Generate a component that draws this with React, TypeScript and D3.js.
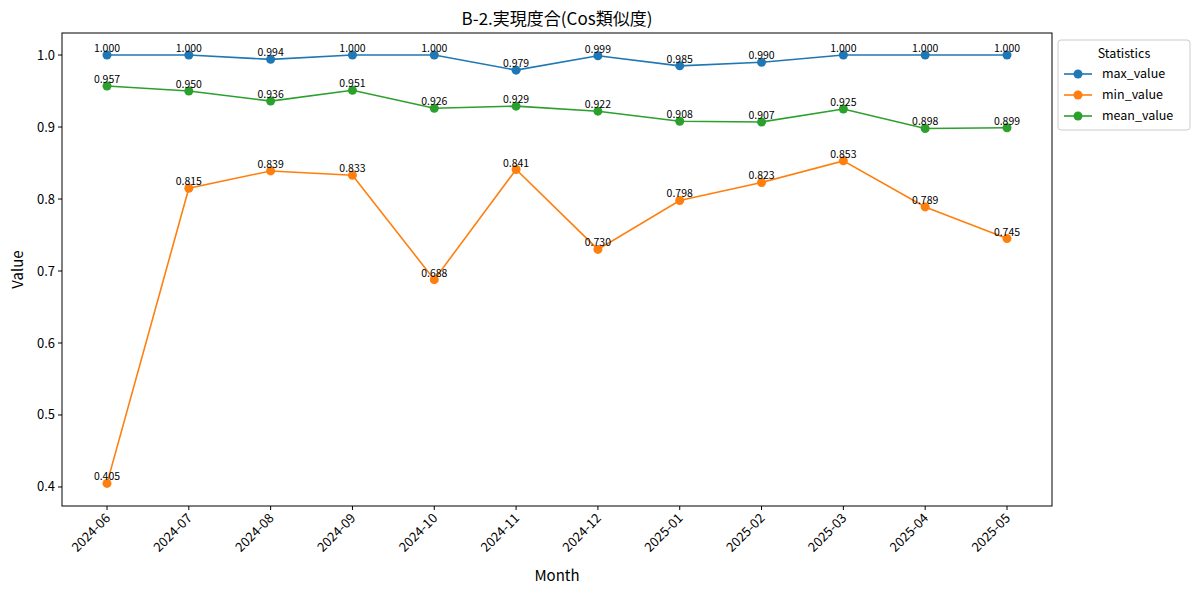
import React from "react";
import * as d3 from "d3";

const months = ["2024-06","2024-07","2024-08","2024-09","2024-10","2024-11","2024-12","2025-01","2025-02","2025-03","2025-04","2025-05"];
const maxValue = [1.0,1.0,0.994,1.0,1.0,0.979,0.999,0.985,0.99,1.0,1.0,1.0];
const minValue = [0.405,0.815,0.839,0.833,0.688,0.841,0.73,0.798,0.823,0.853,0.789,0.745];
const meanValue = [0.957,0.95,0.936,0.951,0.926,0.929,0.922,0.908,0.907,0.925,0.898,0.899];
const yTicks = [0.4,0.5,0.6,0.7,0.8,0.9,1.0];

const series = [
  { name: "max_value", values: maxValue, color: "#1f77b4" },
  { name: "min_value", values: minValue, color: "#ff7f0e" },
  { name: "mean_value", values: meanValue, color: "#2ca02c" },
];

const font = "'Noto Sans CJK JP', 'Noto Sans', sans-serif";
const L = 62, R = 1052, T = 33, B = 506;

export default function App() {
  const x = d3.scalePoint().domain(months).range([107, 1007]);
  const y = d3.scaleLinear().domain([0.3736, 1.0306]).range([B, T]);
  const line = d3.line<number>().x((_, i) => x(months[i])!).y((v) => y(v));
  return (
    <svg width={1200} height={595} style={{ position: "absolute", left: 0, top: 0, fontFamily: font }}>
      <rect width={1200} height={595} fill="#fff" />
      <text x={557} y={25} textAnchor="middle" fontSize={17}>B-2.実現度合(Cos類似度)</text>
      {series.map((s) => (
        <g key={s.name}>
          <path d={line(s.values)!} fill="none" stroke={s.color} strokeWidth={1.6} />
          {s.values.map((v, i) => (
            <g key={i}>
              <circle cx={x(months[i])} cy={y(v)} r={4.5} fill={s.color} />
              <text x={x(months[i])} y={y(v) - 3} textAnchor="middle" fontSize={10.5}>{v.toFixed(3)}</text>
            </g>
          ))}
        </g>
      ))}
      <rect x={L} y={T} width={R - L} height={B - T} fill="none" stroke="#000" strokeWidth={1} />
      {yTicks.map((t) => (
        <g key={t}>
          <line x1={L - 4} x2={L} y1={y(t)} y2={y(t)} stroke="#000" />
          <text x={L - 7} y={y(t) + 4.5} textAnchor="end" fontSize={13}>{t.toFixed(1)}</text>
        </g>
      ))}
      {months.map((m) => (
        <g key={m}>
          <line x1={x(m)} x2={x(m)} y1={B} y2={B + 4} stroke="#000" />
          <text transform={`translate(${x(m)! + 4},${B + 13}) rotate(-45)`} textAnchor="end" fontSize={13}>{m}</text>
        </g>
      ))}
      <text x={557} y={581} textAnchor="middle" fontSize={15}>Month</text>
      <text transform={`translate(23,${(T + B) / 2}) rotate(-90)`} textAnchor="middle" fontSize={15}>Value</text>
      <rect x={1058} y={40} width={132} height={90} fill="#fff" stroke="#ccc" rx={3} />
      <text x={1124} y={58} textAnchor="middle" fontSize={12.5}>Statistics</text>
      {series.map((s, i) => (
        <g key={s.name}>
          <line x1={1064} x2={1092} y1={74 + i * 21} y2={74 + i * 21} stroke={s.color} strokeWidth={1.6} />
          <circle cx={1078} cy={74 + i * 21} r={4.5} fill={s.color} />
          <text x={1102} y={78 + i * 21} fontSize={12.5}>{s.name}</text>
        </g>
      ))}
    </svg>
  );
}
